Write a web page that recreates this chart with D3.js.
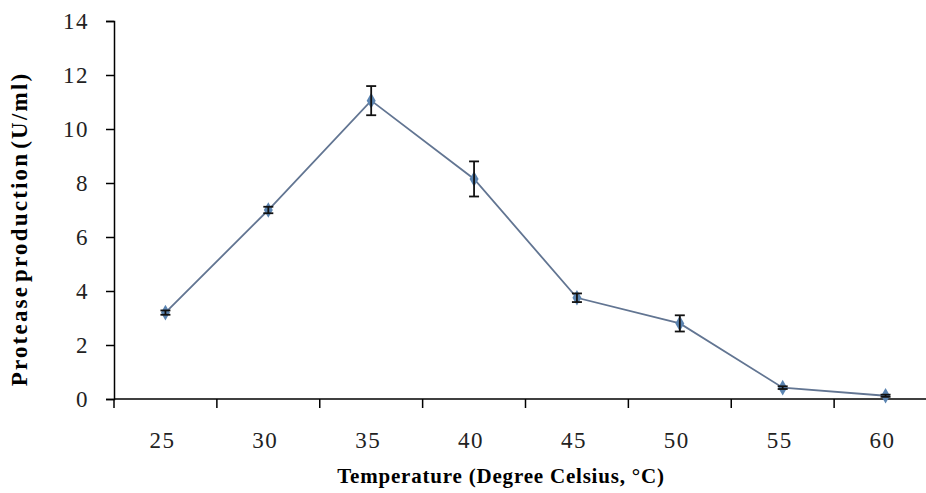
<!DOCTYPE html>
<html>
<head>
<meta charset="utf-8">
<script src="https://cdn.jsdelivr.net/npm/d3@7"></script>
<style>
  body { margin: 0; background: #fff; }
  text { font-family: "Liberation Serif", "Times New Roman", serif; }
</style>
</head>
<body>
<script>
var width = 926,
    height = 493;

// data
var temps = ["25", "30", "35", "40", "45", "50", "55", "60"];
var protease = [3.2, 7.0, 11.05, 8.15, 3.75, 2.8, 0.42, 0.12];
var errs = [0.08, 0.12, 0.54, 0.65, 0.16, 0.3, 0.05, 0.04];
var yTicks = [0, 2, 4, 6, 8, 10, 12, 14];

var margin = {left: 114, top: 21, right: -11, bottom: 94};

var svg = d3.select("body").append("svg")
    .attr("width", width)
    .attr("height", height);

var x = d3.scaleBand()
  .domain(temps)
  .range([margin.left, width - margin.right]);

var y = d3.scaleLinear()
  .domain([0, 14])
  .range([height - margin.bottom, margin.top]);

// x axis with ticks on category boundaries
var xAxis = svg.append("g")
    .attr("transform", "translate(0," + y(0) + ")");
xAxis.append("line")
    .attr("x1", margin.left).attr("x2", width)
    .attr("stroke", "#000").attr("stroke-width", 1.5);
var bounds = temps.map(function(d) { return x(d); });
xAxis.selectAll(".tk")
    .data(bounds)
    .enter().append("line")
    .attr("x1", function(d) { return d; })
    .attr("x2", function(d) { return d; })
    .attr("y1", 0).attr("y2", 9)
    .attr("stroke", "#000").attr("stroke-width", 1.5);
xAxis.selectAll(".lbl")
    .data(temps)
    .enter().append("text")
    .attr("x", function(d) { return x(d) + x.bandwidth() / 2 - 3; })
    .attr("y", 49)
    .attr("text-anchor", "middle")
    .attr("font-size", 23)
    .attr("letter-spacing", 1.5)
    .attr("fill", "#222")
    .text(function(d) { return d; });

// y axis
var yAxis = svg.append("g")
    .attr("transform", "translate(" + margin.left + ",0)")
    .call(d3.axisLeft(y).tickValues(yTicks).tickSize(8).tickPadding(17));
yAxis.select(".domain").attr("stroke-width", 1.5);
yAxis.selectAll(".tick line").attr("stroke-width", 1.5);
yAxis.selectAll("text")
    .attr("font-size", 23)
    .attr("letter-spacing", 1.5)
    .attr("fill", "#222")
    .style("font-family", "Liberation Serif, serif");

// axis titles
svg.append("text")
    .attr("x", 501)
    .attr("y", 483)
    .attr("text-anchor", "middle")
    .attr("font-size", 21)
    .attr("font-weight", "bold")
    .attr("letter-spacing", 0.8)
    .text("Temperature (Degree Celsius, °C)");

svg.append("text")
    .attr("transform", "translate(27," + 229 + ") rotate(-90)")
    .attr("text-anchor", "middle")
    .attr("font-size", 23)
    .attr("font-weight", "bold")
    .attr("letter-spacing", 2.2)
    .attr("word-spacing", -5)
    .text("Protease production (U/ml)");

var pts = temps.map(function(t, i) {
  return {t: t, v: protease[i], e: errs[i]};
});
var cx = function(d) { return x(d.t) + x.bandwidth() / 2; };

// line
var line = d3.line()
  .x(cx)
  .y(function(d) { return y(d.v); });

svg.append("path")
    .datum(pts)
    .attr("d", line)
    .attr("fill", "none")
    .attr("stroke", "#627592")
    .attr("stroke-width", 1.8);

// markers (diamonds)
svg.selectAll(".mk")
    .data(pts)
    .enter().append("path")
    .attr("d", d3.symbol().type(d3.symbolDiamond).size(70))
    .attr("transform", function(d) { return "translate(" + cx(d) + "," + y(d.v) + ")"; })
    .attr("fill", "#5b84b1");

// error bars
var eb = svg.selectAll(".eb")
    .data(pts)
    .enter().append("g")
    .attr("stroke", "#111")
    .attr("stroke-width", 1.8);
eb.append("line")
    .attr("x1", cx).attr("x2", cx)
    .attr("y1", function(d) { return y(d.v + d.e); })
    .attr("y2", function(d) { return y(d.v - d.e); });
eb.append("line")
    .attr("x1", function(d) { return cx(d) - 5; })
    .attr("x2", function(d) { return cx(d) + 5; })
    .attr("y1", function(d) { return y(d.v + d.e); })
    .attr("y2", function(d) { return y(d.v + d.e); });
eb.append("line")
    .attr("x1", function(d) { return cx(d) - 5; })
    .attr("x2", function(d) { return cx(d) + 5; })
    .attr("y1", function(d) { return y(d.v - d.e); })
    .attr("y2", function(d) { return y(d.v - d.e); });
</script>
</body>
</html>
